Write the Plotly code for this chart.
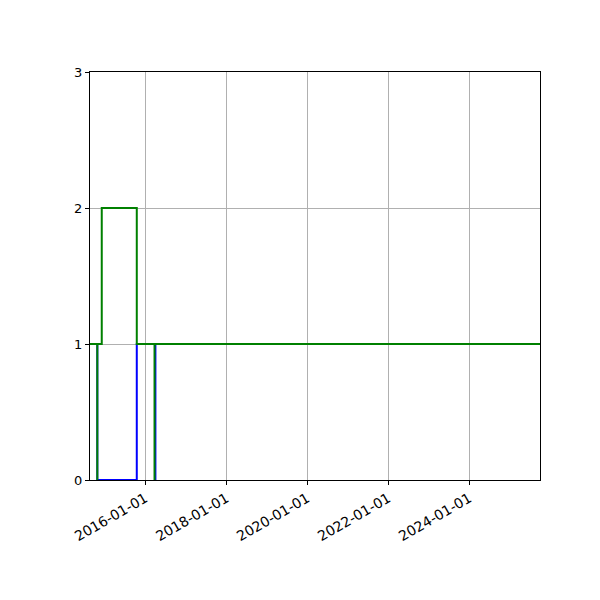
import plotly.graph_objects as go

# step series (drawn as steps-post)
blue_dates = ["2014-08-20", "2014-10-25", "2015-10-16", "2016-04-01", "2016-04-01", "2025-09-30"]
blue_vals = [1, 0, 1, 0, 1, 1]

green_dates = ["2014-08-20", "2014-10-25", "2014-10-25", "2014-12-04", "2015-10-16",
               "2016-03-24", "2016-03-24", "2025-09-30"]
green_vals = [1, 0, 1, 2, 1, 0, 1, 1]

x_ticks = ["2016-01-01", "2018-01-01", "2020-01-01", "2022-01-01", "2024-01-01"]
y_ticks = [0, 1, 2, 3]

fig = go.Figure()
fig.add_trace(go.Scatter(x=blue_dates, y=blue_vals, mode="lines",
                         line=dict(color="#0000ff", width=2, shape="hv"), showlegend=False))
fig.add_trace(go.Scatter(x=green_dates, y=green_vals, mode="lines",
                         line=dict(color="#008000", width=2, shape="hv"), showlegend=False))

fig.update_layout(
    width=600, height=600,
    margin=dict(l=82, r=68, t=64, b=128),
    plot_bgcolor="white", paper_bgcolor="white",
    font=dict(family="DejaVu Sans", size=13, color="black"),
)
fig.update_xaxes(
    type="date", range=["2014-08-20", "2025-09-30"],
    tickvals=x_ticks, ticktext=x_ticks, tickangle=-30,
    tickfont=dict(size=14),
    showgrid=True, gridcolor="#b0b0b0", gridwidth=0.8,
    showline=True, mirror=True, linecolor="black", linewidth=1,
    ticks="outside", ticklen=4, tickcolor="black", zeroline=False,
)
fig.update_yaxes(
    range=[0, 3], tickvals=y_ticks,
    showgrid=True, gridcolor="#b0b0b0", gridwidth=0.8,
    showline=True, mirror=True, linecolor="black", linewidth=1,
    ticks="outside", ticklen=4, tickcolor="black", zeroline=False,
)

fig.write_html("out.html")
